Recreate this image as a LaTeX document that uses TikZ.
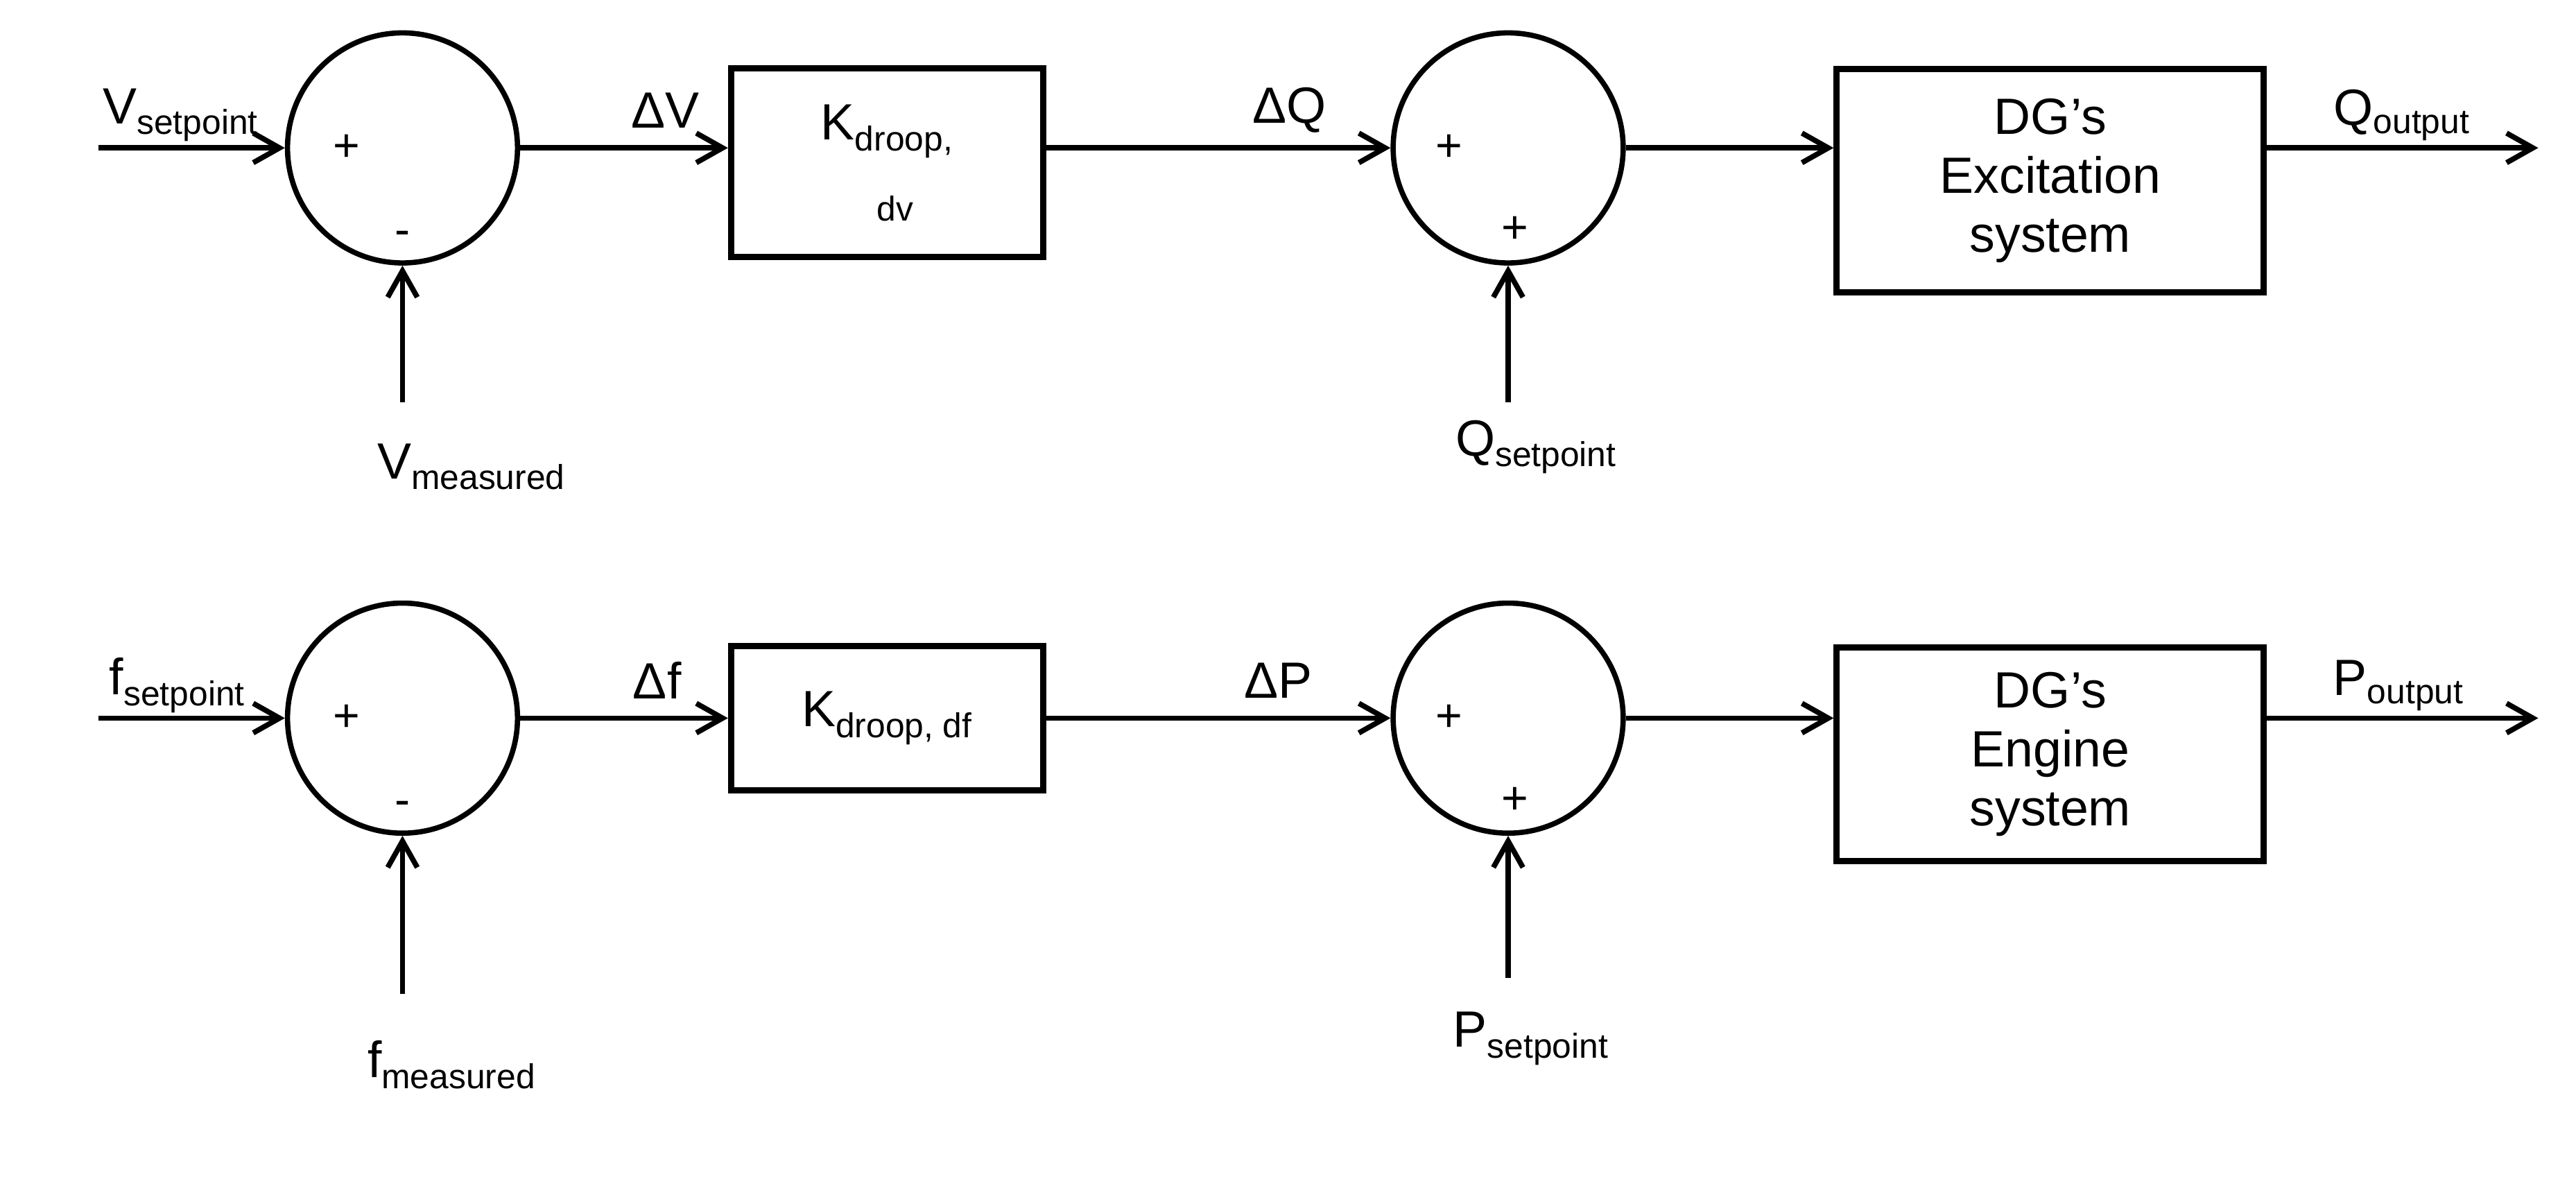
\documentclass[tikz,border=0pt]{standalone}
\usepackage{fontspec}
\setmainfont{Liberation Sans}
\usetikzlibrary{arrows.meta}
\begin{document}
\begin{tikzpicture}[x=1pt,y=-1pt,
 ln/.style={line width=3.2pt},
 ar/.style={ln,-{Straight Barb[length=16pt,width=18pt,line width=3.2pt]}},
 sum/.style={circle,draw,line width=3.2pt,minimum size=140pt,inner sep=0pt},
 blk/.style={draw,line width=3.8pt,align=center,inner sep=0pt,font=\fontsize{31}{36}\selectfont},
 lab/.style={font=\fontsize{31}{36}\selectfont,inner sep=0pt},
 sgn/.style={font=\fontsize{28}{30}\selectfont,inner sep=0pt}]
\useasboundingbox (0,0) rectangle (1568,716);
\newcommand{\sbs}[2]{#1\textsubscript{\fontsize{21}{24}\selectfont #2}}
% top row
\coordinate (vin) at (60,90);
\node[sum] (s1) at (245,90) {};
\node[blk,minimum width=190pt,minimum height=115pt] (k1) at (540,99) {};
\node[lab] at (540,80) {\sbs{K}{droop,}};
\node[font=\fontsize{21}{24}\selectfont] at (545,127) {dv};
\node[sum] (s2) at (918,90) {};
\node[blk,minimum width=260pt,minimum height=136pt] (dg1) at (1248,110) {DG’s\\Excitation\\system};
\coordinate (qout) at (1545,90);
\coordinate (vm) at (245,245);
\coordinate (qs) at (918,245);
\draw[ar] (vin) -- (s1);
\draw[ar] (s1) -- (k1.west|-s1);
\draw[ar] (k1.east|-s1) -- (s2);
\draw[ar] (s2) -- (dg1.west|-s2);
\draw[ar] (dg1.east|-s2) -- (qout);
\draw[ar] (vm) -- (s1);
\draw[ar] (qs) -- (s2);
\node[lab] at (110,70) {\sbs{V}{setpoint}};
\node[lab] at (405,67) {ΔV};
\node[lab] at (785,67) {ΔQ};
\node[lab] at (1462,70) {\sbs{Q}{output}};
\node[lab] at (287,284) {\sbs{V}{measured}};
\node[lab] at (935,272) {\sbs{Q}{setpoint}};
\node[sgn] at (211,90) {+};
\node[sgn] at (245,145) {-};
\node[sgn] at (882,90) {+};
\node[sgn] at (922,140) {+};
% bottom row
\coordinate (fin) at (60,437);
\node[sum] (s3) at (245,437) {};
\node[blk,minimum width=190pt,minimum height=88pt] (k2) at (540,437) {\sbs{K}{droop,\ df}};
\node[sum] (s4) at (918,437) {};
\node[blk,minimum width=260pt,minimum height=130pt] (dg2) at (1248,459) {DG’s\\Engine\\system};
\coordinate (pout) at (1545,437);
\coordinate (fm) at (245,605);
\coordinate (ps) at (918,595);
\draw[ar] (fin) -- (s3);
\draw[ar] (s3) -- (k2.west|-s3);
\draw[ar] (k2.east|-s3) -- (s4);
\draw[ar] (s4) -- (dg2.west|-s4);
\draw[ar] (dg2.east|-s4) -- (pout);
\draw[ar] (fm) -- (s3);
\draw[ar] (ps) -- (s4);
\node[lab] at (108,417) {\sbs{f}{setpoint}};
\node[lab] at (400,414) {Δf};
\node[lab] at (778,414) {ΔP};
\node[lab] at (1460,417) {\sbs{P}{output}};
\node[lab] at (275,648) {\sbs{f}{measured}};
\node[lab] at (932,632) {\sbs{P}{setpoint}};
\node[sgn] at (211,437) {+};
\node[sgn] at (245,492) {-};
\node[sgn] at (882,437) {+};
\node[sgn] at (922,487) {+};
\end{tikzpicture}
\end{document}
